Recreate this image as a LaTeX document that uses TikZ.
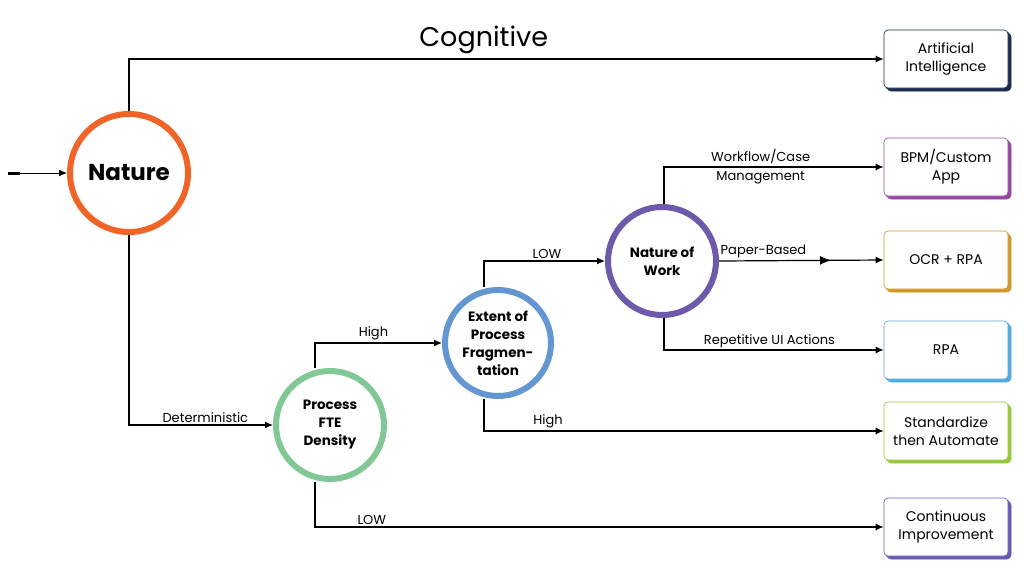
\documentclass[tikz,border=0pt]{standalone}
\usepackage{fontspec}
\setmainfont{Poppins}
\usetikzlibrary{arrows.meta,decorations.markings,shadows}
\definecolor{natureorange}{RGB}{240, 100, 40}
\definecolor{ftegreen}{RGB}{130, 200, 150}
\definecolor{fragblue}{RGB}{100, 150, 210}
\definecolor{workpurple}{RGB}{110, 90, 170}
\definecolor{ainavy}{RGB}{25, 45, 75}
\definecolor{bpmpurple}{RGB}{150, 70, 160}
\definecolor{ocrgold}{RGB}{210, 150, 40}
\definecolor{rpablue}{RGB}{80, 170, 220}
\definecolor{stdgreen}{RGB}{150, 200, 60}
\definecolor{cipurple}{RGB}{100, 90, 180}
\tikzset{
  decision/.style={circle, draw=#1, line width=6pt, fill=white, align=center,
    inner sep=0pt, font=\bfseries\fontsize{13.5}{18}\selectfont},
  outcome/.style={rectangle, rounded corners=4pt, draw=#1, line width=0.6pt,
    fill=white, minimum width=124pt, minimum height=58pt, align=center,
    font=\fontsize{14}{18}\selectfont,
    double copy shadow={shadow xshift=1.5pt, shadow yshift=-1.5pt, fill=#1, draw=#1}},
  flow/.style={-{Latex[length=8pt,width=7pt]}, line width=1.2pt},
  tag/.style={font=\fontsize{13}{15}\selectfont, inner sep=1pt},
}
\begin{document}
\begin{tikzpicture}[x=1pt,y=-1pt]
  \useasboundingbox (0,0) rectangle (1024,576);

  % Decision circles
  \node[decision=natureorange, minimum size=118pt, font=\bfseries\fontsize{23}{26}\selectfont] (nature) at (129,173) {Nature};
  \node[decision=ftegreen, minimum size=108pt] (fte) at (330,425) {Process\\FTE\\Density};
  \node[decision=fragblue, minimum size=106pt] (frag) at (498,343) {Extent of\\Process\\Fragmen-\\tation};
  \node[decision=workpurple, minimum size=108pt] (work) at (662,261) {Nature of\\Work};

  % Outcomes
  \node[outcome=ainavy] (ai) at (946,59) {Artificial\\Intelligence};
  \node[outcome=bpmpurple] (bpm) at (946,167) {BPM/Custom\\App};
  \node[outcome=ocrgold] (ocr) at (946,260) {OCR + RPA};
  \node[outcome=rpablue] (rpa) at (946,350) {RPA};
  \node[outcome=stdgreen] (std) at (946,431) {Standardize\\then Automate};
  \node[outcome=cipurple] (ci) at (946,527) {Continuous\\Improvement};

  % Entry
  \coordinate (entry) at (8,173);
  \draw[line width=3pt] (entry) -- ++(12,0);
  \draw[flow, line width=1pt] (entry) -- (nature.west);

  % Connectors
  \draw[flow] (nature.north) |- (ai.west)
    node[pos=0.735, above=1pt, font=\fontsize{27}{30}\selectfont] {Cognitive};
  \draw[flow] (nature.south) |- (fte.west)
    node[pos=0.765, above=1pt, tag] {Deterministic};
  \draw[flow] (fte.north -| 315,0) |- (frag.west)
    node[pos=0.73, above=1pt, tag] {High};
  \draw[flow] (fte.south -| 315,0) |- (ci.west)
    node[pos=0.55, above=1pt, tag] {LOW};
  \draw[flow] (frag.north -| 484,0) |- (work.west)
    node[pos=0.76, above=1pt, tag] {LOW};
  \draw[flow] (frag.south -| 484,0) |- (std.west)
    node[pos=0.58, above=1pt, tag] {High};
  \draw[flow] (work.north -| 664,0) |- (bpm.west)
    node[pos=0.72, tag, align=center] {Workflow/Case\\[4pt]Management};
  \draw[flow, postaction={decorate, decoration={markings,
      mark=at position 0.68 with {\arrow{Latex[length=11pt,width=9pt]}}}}]
    (work.east) -- (ocr.west) node[pos=0.27, above=1pt, tag] {Paper-Based};
  \draw[flow] (work.south -| 664,0) |- (rpa.west)
    node[pos=0.74, above=1pt, tag] {Repetitive UI Actions};
\end{tikzpicture}
\end{document}
